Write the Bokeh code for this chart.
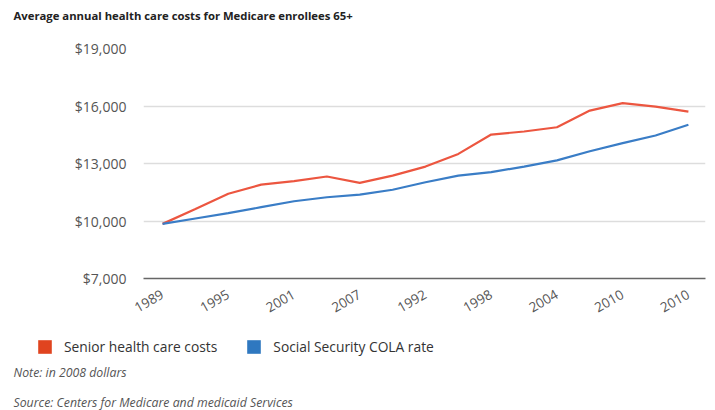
from bokeh.plotting import figure
from bokeh.layouts import column
from bokeh.models import (Range1d, FixedTicker, NumeralTickFormatter, Label,
                          Legend, LegendItem, ColumnDataSource)
from bokeh.embed import file_html
from bokeh.resources import INLINE

# ---- data ----
tick_labels = ["1989", "1995", "2001", "2007", "1992", "1998", "2004", "2010", "2010"]
senior_costs = [9850, 10620, 11420, 11900, 12080, 12320, 11990, 12370, 12840,
                13500, 14510, 14670, 14890, 15760, 16150, 15970, 15710]
cola_rate = [9850, 10130, 10410, 10720, 11030, 11240, 11380, 11630, 12020,
             12370, 12550, 12840, 13160, 13640, 14060, 14460, 15020]
y_ticks = [7000, 10000, 13000, 16000, 19000]
series_names = ["Senior health care costs", "Social Security COLA rate"]
title_text = "Average annual health care costs for Medicare enrollees 65+"
note_text = "Note: in 2008 dollars"
source_text = "Source: Centers for Medicare and medicaid Services"

FONT = "Open Sans"
RED = "#ec5640"
BLUE = "#3a7dc6"
RED_SQ = "#e0441f"
BLUE_SQ = "#2f78c0"

n = len(senior_costs)
xs = list(range(n))
tick_pos = xs[::2]

src = ColumnDataSource(dict(x=xs, senior=senior_costs, cola=cola_rate))


def blank_panel(height):
    fig = figure(width=715, height=height, output_backend="svg", toolbar_location=None,
                 x_range=Range1d(0, 715), y_range=Range1d(0, height),
                 min_border=0, min_border_left=0, min_border_right=0,
                 min_border_top=0, min_border_bottom=0,
                 x_axis_type=None, y_axis_type=None, frame_align=False)
    fig.outline_line_color = None
    fig.grid.visible = False
    fig.background_fill_color = "white"
    fig.border_fill_color = "white"
    return fig


# ---- header with title ----
HEAD_H = 30
h = blank_panel(HEAD_H)
h.add_layout(Label(x=13, y=HEAD_H - 15, x_units="screen", y_units="screen",
                   text=title_text, text_font=FONT, text_font_size="11.3px",
                   text_font_style="bold", text_color="#222222",
                   text_baseline="middle"))

# ---- main chart ----
MAIN_H = 300
p = figure(width=715, height=MAIN_H, output_backend="svg", toolbar_location=None,
           x_range=Range1d(-0.58, n - 1 + 0.52), y_range=Range1d(y_ticks[0], y_ticks[-1]),
           min_border_left=143, min_border_right=10, min_border_top=48 - HEAD_H,
           min_border_bottom=HEAD_H + MAIN_H - 278, frame_align=False)
p.outline_line_color = None
p.background_fill_color = "white"
p.border_fill_color = "white"

p.line("x", "senior", source=src, line_color=RED, line_width=2.2)
p.line("x", "cola", source=src, line_color=BLUE, line_width=2.2)

# y axis
p.yaxis.ticker = FixedTicker(ticks=y_ticks)
p.yaxis.formatter = NumeralTickFormatter(format="$0,0")
p.yaxis.axis_line_color = None
p.yaxis.major_tick_line_color = None
p.yaxis.minor_tick_line_color = None
p.yaxis.major_label_standoff = 11
p.yaxis.major_label_text_font = FONT
p.yaxis.major_label_text_font_size = "14px"
p.yaxis.major_label_text_color = "#555555"

p.ygrid.ticker = FixedTicker(ticks=y_ticks)
p.ygrid.grid_line_color = "#dddddd"
p.ygrid.grid_line_width = 1.5
p.xgrid.grid_line_color = None

# x axis
p.xaxis.ticker = FixedTicker(ticks=tick_pos)
p.xaxis.major_label_overrides = {t: lab for t, lab in zip(tick_pos, tick_labels)}
p.xaxis.axis_line_color = "#666666"
p.xaxis.axis_line_width = 1.5
p.xaxis.major_tick_line_color = None
p.xaxis.minor_tick_line_color = None
p.xaxis.major_label_orientation = 0.52
p.xaxis.major_label_standoff = 9
p.xaxis.major_label_text_font = FONT
p.xaxis.major_label_text_font_size = "13.5px"
p.xaxis.major_label_text_color = "#555555"

# ---- footer: legend and notes ----
FOOT_H = 410 - MAIN_H - HEAD_H
f = blank_panel(FOOT_H)

# swatch renderers for the legend (zero-size, only their style is used)
sw1 = f.quad(left=[0], right=[0], top=[0], bottom=[0], fill_color=RED_SQ, line_color=None)
sw2 = f.quad(left=[0], right=[0], top=[0], bottom=[0], fill_color=BLUE_SQ, line_color=None)
legend = Legend(items=[LegendItem(label=series_names[0], renderers=[sw1]),
                       LegendItem(label=series_names[1], renderers=[sw2])],
                location=(36, FOOT_H - 26), orientation="horizontal",
                glyph_width=17, glyph_height=17, label_height=17,
                label_standoff=11, spacing=28, padding=0, margin=0,
                border_line_color=None, background_fill_alpha=0,
                label_text_font=FONT, label_text_font_size="13.8px",
                label_text_color="#333333")
f.add_layout(legend, "center")

f.add_layout(Label(x=13, y=FOOT_H - 42, x_units="screen", y_units="screen",
                   text=note_text, text_font=FONT, text_font_size="12.3px",
                   text_font_style="italic", text_color="#555555",
                   text_baseline="middle"))
f.add_layout(Label(x=13, y=FOOT_H - 72, x_units="screen", y_units="screen",
                   text=source_text, text_font=FONT, text_font_size="12.3px",
                   text_font_style="italic", text_color="#555555",
                   text_baseline="middle"))

open("out.html", "w").write(file_html(column(h, p, f, spacing=0), INLINE))
